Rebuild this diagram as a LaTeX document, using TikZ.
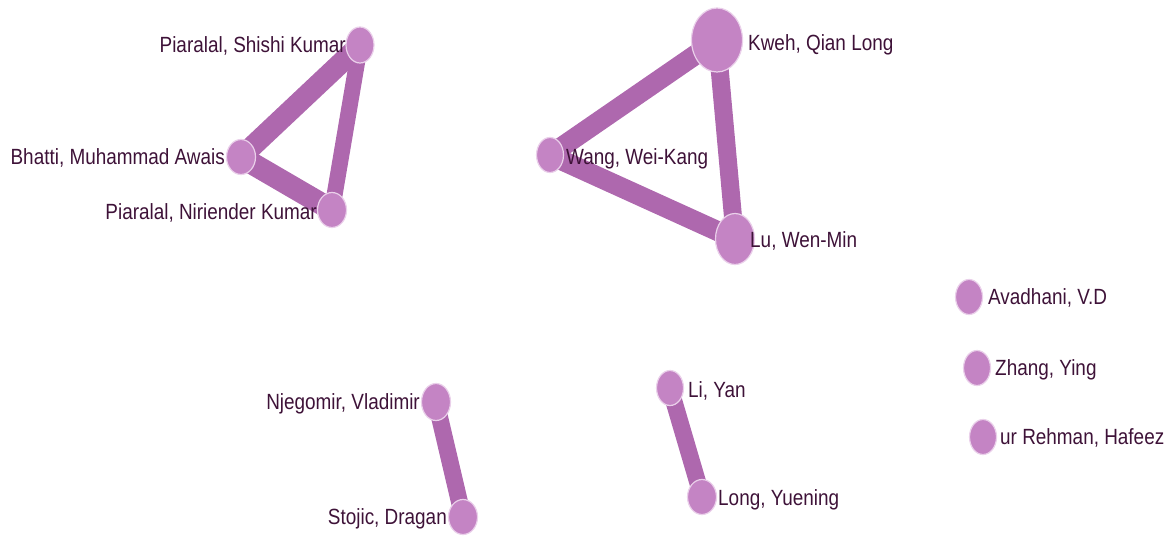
\documentclass[tikz,border=0pt]{standalone}
\usepackage{fontspec}
\setmainfont{Liberation Sans}[FakeStretch=0.86]
\usetikzlibrary{shapes.geometric,backgrounds}
\definecolor{nodefill}{RGB}{196,132,196}
\definecolor{nodeline}{RGB}{234,208,234}
\definecolor{edgecol}{RGB}{174,104,174}
\definecolor{labcol}{RGB}{62,18,56}
\tikzset{
  author/.style={ellipse, fill=nodefill, draw=nodeline, line width=1.2pt, inner sep=0pt},
  lab/.style={inner sep=0pt, text=labcol, font=\fontsize{22}{26}\selectfont, text height=15.75pt, text depth=0pt},
  link/.style={draw=edgecol, line cap=butt}
}
\begin{document}
\begin{tikzpicture}[x=1pt,y=-1pt]
\useasboundingbox (0,0) rectangle (1174,536);
% nodes
\node[author, minimum width=28pt, minimum height=36pt] (shishi) at (360,45) {};
\node[author, minimum width=29pt, minimum height=35pt] (bhatti) at (241,157) {};
\node[author, minimum width=29pt, minimum height=35pt] (nirie) at (332,210) {};
\node[author, minimum width=51pt, minimum height=64pt] (kweh) at (717,40) {};
\node[author, minimum width=27pt, minimum height=35pt] (wang) at (550,155) {};
\node[author, minimum width=39pt, minimum height=51pt] (lu) at (735,239) {};
\node[author, minimum width=27pt, minimum height=35pt] (avad) at (969,297) {};
\node[author, minimum width=27pt, minimum height=35pt] (zhang) at (977,368) {};
\node[author, minimum width=27pt, minimum height=35pt] (rehman) at (983,437) {};
\node[author, minimum width=29pt, minimum height=37pt] (njeg) at (436,402) {};
\node[author, minimum width=29pt, minimum height=35pt] (stojic) at (463,517) {};
\node[author, minimum width=27pt, minimum height=35pt] (liyan) at (670,388) {};
\node[author, minimum width=29pt, minimum height=35pt] (long) at (702,497) {};
% edges
\begin{scope}[on background layer]
\draw[link, line width=21pt] (shishi.center) -- (bhatti.center);
\draw[link, line width=22pt] (bhatti.center) -- (nirie.center);
\draw[link, line width=16pt] (shishi.center) -- (nirie.center);
\draw[link, line width=20pt] (kweh.center) -- (wang.center);
\draw[link, line width=20pt] (wang.center) -- (lu.center);
\draw[link, line width=18pt] (kweh.center) -- (lu.center);
\draw[link, line width=17pt] (njeg.center) -- (stojic.center);
\draw[link, line width=17pt] (liyan.center) -- (long.center);
\end{scope}
% labels
\node[lab, anchor=east] (lshishi) at (346,45) {Piaralal, Shishi Kumar};
\node[lab, anchor=east] (lbhatti) at (225,157) {Bhatti, Muhammad Awais};
\node[lab, anchor=east] (lnirie) at (317,212) {Piaralal, Niriender Kumar};
\node[lab, anchor=west] (lkweh) at (748,43) {Kweh, Qian Long};
\node[lab, anchor=west] (lwang) at (566,157) {Wang, Wei-Kang};
\node[lab, anchor=west] (llu) at (750,240) {Lu, Wen-Min};
\node[lab, anchor=west] (lavad) at (988,297) {Avadhani, V.D};
\node[lab, anchor=west] (lzhang) at (995,368) {Zhang, Ying};
\node[lab, anchor=west] (lrehman) at (1000,437) {ur Rehman, Hafeez};
\node[lab, anchor=east] (lnjeg) at (420,402) {Njegomir, Vladimir};
\node[lab, anchor=east] (lstojic) at (447,517) {Stojic, Dragan};
\node[lab, anchor=west] (lliyan) at (688,390) {Li, Yan};
\node[lab, anchor=west] (llong) at (718,498) {Long, Yuening};
\end{tikzpicture}
\end{document}
